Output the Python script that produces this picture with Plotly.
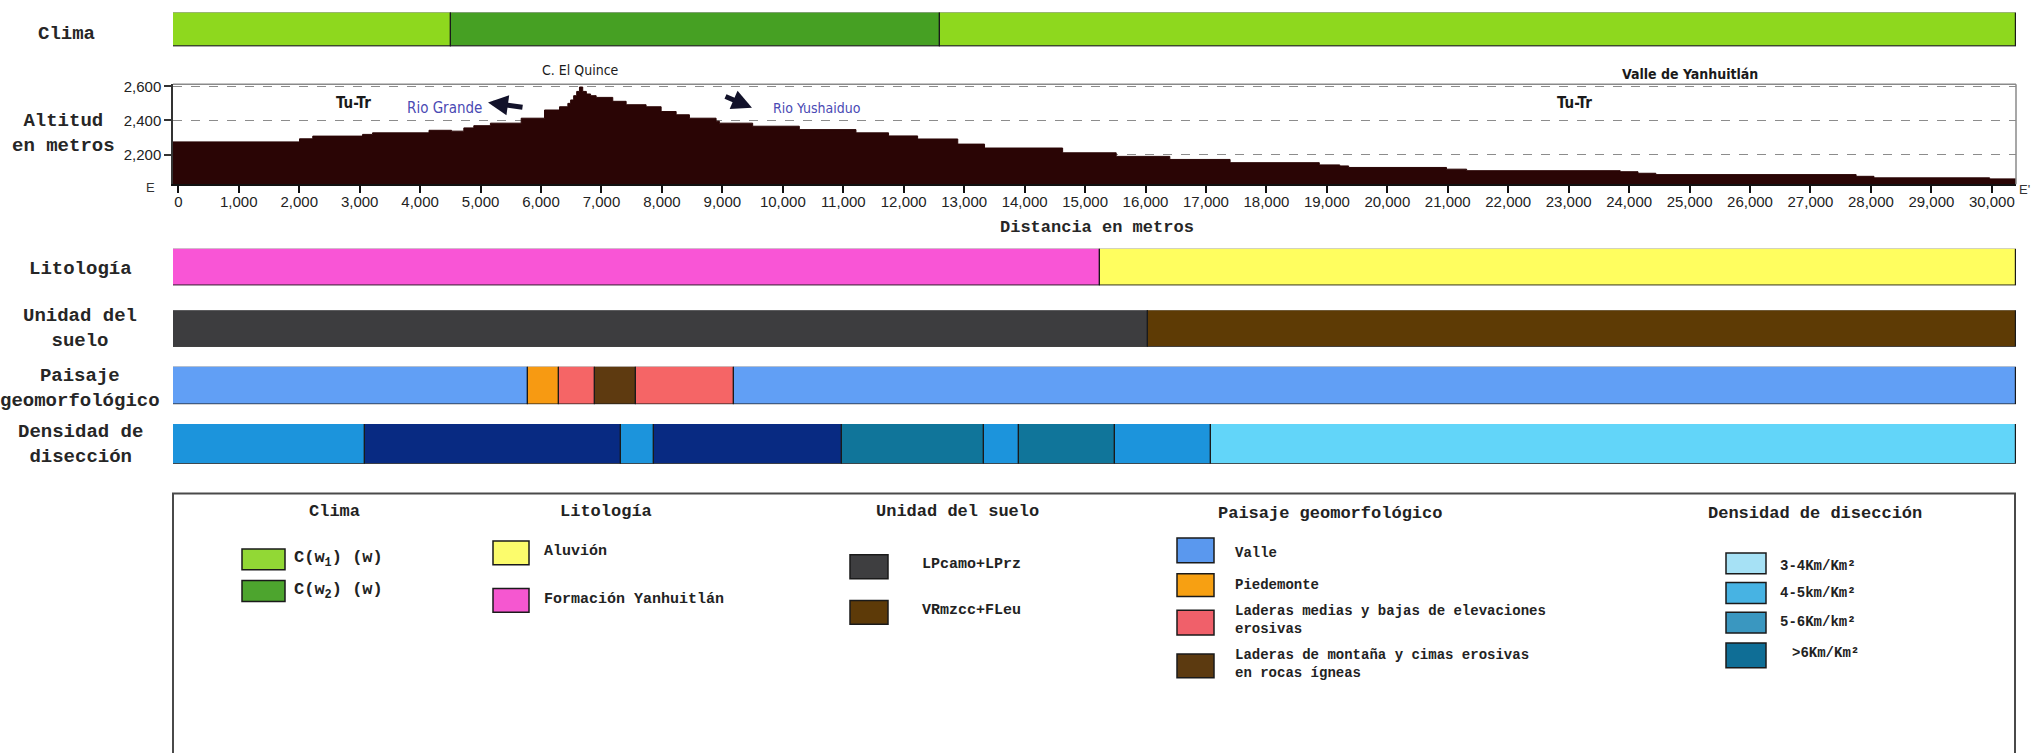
import plotly.graph_objects as go

W, H = 2038, 753

# ---------------- DATA ----------------
# Elevation profile (distance in m, elevation in m), stepped GIS profile
profile_dist = [-88, 2005, 2224, 3048, 3213, 4147, 4520, 4723, 4888, 5163, 5672, 6058, 6306,
                6444, 6490, 6540, 6590, 6636, 6690, 6750, 6820, 6912, 7187, 7408, 7738, 7987,
                8235, 8455, 8896, 8950, 9501, 10273, 11210, 11749, 12230, 12894, 13337, 14629,
                15515, 16402, 17399, 18875, 19213, 19360, 20979, 21312, 23853, 24147, 24442,
                27755, 28050, 29964, 30400]
profile_elev = [2274, 2292, 2308, 2318, 2327, 2342, 2337, 2356, 2369, 2384, 2413, 2461, 2480,
                2500, 2520, 2545, 2570, 2596, 2570, 2555, 2545, 2535, 2512, 2492, 2480, 2452,
                2433, 2413, 2395, 2384, 2366, 2346, 2327, 2309, 2291, 2261, 2238, 2210,
                2189, 2171, 2152, 2139, 2133, 2124, 2114, 2105, 2099, 2090, 2082,
                2072, 2063, 2057, 2057]

x_ticks = list(range(0, 30001, 1000))
y_ticks = [2200, 2400, 2600]

X_START, X_END = -88, 30400

# Strip rows: segment boundaries (m) and colours
clima_edges = [X_START, 4511, 12600, X_END]
clima_colors = ["#8ED81E", "#46A023", "#8ED81E"]

lito_edges = [X_START, 15253, X_END]
lito_colors = ["#F955D6", "#FFFE5F"]

suelo_edges = [X_START, 16038, X_END]
suelo_colors = ["#3D3D3F", "#5E3B05"]

paisaje_edges = [X_START, 5785, 6298, 6893, 7572, 9193, X_END]
paisaje_colors = ["#619FF5", "#F79A12", "#F56566", "#5E3A10", "#F56566", "#619FF5"]

dens_edges = [X_START, 3089, 7324, 7870, 10980, 13329, 13908, 15496, 17084, X_END]
dens_colors = ["#1C94DC", "#082A82", "#1C94DC", "#082A82", "#10759A", "#1C94DC",
               "#10759A", "#1C94DC", "#62D5F9"]

row_labels = ["Clima", "Altitud<br>en metros", "Litología", "Unidad del<br>suelo",
              "Paisaje<br>geomorfológico", "Densidad de<br>disección"]

# Legend content
leg_clima_labels = ["C(w<sub>1</sub>) (w)", "C(w<sub>2</sub>) (w)"]
leg_clima_colors = ["#92D835", "#4DA52E"]
leg_lito_labels = ["Aluvión", "Formación Yanhuitlán"]
leg_lito_colors = ["#FCFC6C", "#F557D0"]
leg_suelo_labels = ["LPcamo+LPrz", "VRmzcc+FLeu"]
leg_suelo_colors = ["#3E3E40", "#5D3A08"]
leg_pais_labels = ["Valle", "Piedemonte", "Laderas medias y bajas de elevaciones<br>erosivas",
                   "Laderas de montaña y cimas erosivas<br>en rocas ígneas"]
leg_pais_colors = ["#5A98EE", "#F7A012", "#F0606A", "#5C3A10"]
leg_dens_labels = ["3-4Km/Km²", "4-5km/Km²", "5-6Km/km²", ">6Km/Km²"]
leg_dens_colors = ["#A6E1F5", "#47B3E3", "#3A97C0", "#0F6E96"]

# ---------------- HELPERS ----------------
SHIFT = 4  # vertical nudge (px) for the upper block


def py(px, s=0):
    return 1 - (px - s) / H


def pu(px):
    return py(px, SHIFT)


def pxx(px):
    return px / W


MONO = "Liberation Mono"
SANS = "Liberation Sans"
HAND = "DejaVu Sans Condensed, DejaVu Sans"

fig = go.Figure()

# Altitude profile
fig.add_trace(go.Scatter(
    x=profile_dist, y=profile_elev, mode="lines", line_shape="hv",
    line=dict(color="#2A0505", width=1), fill="tozeroy", fillcolor="#2A0505",
    xaxis="x", yaxis="y", showlegend=False, hoverinfo="skip"))

rows = [
    ("y2", clima_edges, clima_colors),
    ("y3", lito_edges, lito_colors),
    ("y4", suelo_edges, suelo_colors),
    ("y5", paisaje_edges, paisaje_colors),
    ("y6", dens_edges, dens_colors),
]
for yax, edges, colors in rows:
    for i, c in enumerate(colors):
        fig.add_trace(go.Bar(
            x=[edges[i + 1] - edges[i]], base=[edges[i]], y=[0], orientation="h", width=1,
            marker=dict(color=c, line=dict(color="#1A1A1A", width=1.2)),
            xaxis="x", yaxis=yax, showlegend=False, hoverinfo="skip"))

x_dom = [pxx(173), pxx(2016)]
hidden = dict(visible=False, range=[-0.5, 0.5], fixedrange=True)

fig.update_layout(
    width=W, height=H, autosize=False,
    margin=dict(l=0, r=0, t=0, b=0),
    paper_bgcolor="white", plot_bgcolor="rgba(0,0,0,0)",
    barmode="overlay", bargap=0,
    xaxis=dict(domain=x_dom, range=[X_START, X_END], anchor="y",
               tickvals=x_ticks, tickformat=",d", ticks="outside", ticklen=7,
               tickwidth=1.5, tickcolor="#111", showline=True, linecolor="#111",
               linewidth=2, showgrid=False, zeroline=False, ticklabelstandoff=-4,
               tickfont=dict(family=SANS, size=15, color="#222")),
    yaxis=dict(domain=[pu(183), pu(82)], range=[2025, 2612], anchor="x",
               tickvals=y_ticks, tickformat=",d", ticks="outside", ticklen=7,
               tickwidth=1.5, tickcolor="#333", showline=True, linecolor="#333",
               linewidth=1.5, showgrid=True, gridcolor="#8C8C8C", griddash="dash",
               gridwidth=1, zeroline=False,
               tickfont=dict(family=SANS, size=15, color="#222")),
    yaxis2=dict(domain=[pu(44), pu(9.5)], anchor="x", **hidden),
    yaxis3=dict(domain=[pu(285), pu(248)], anchor="x", **hidden),
    yaxis4=dict(domain=[pu(347), pu(310)], anchor="x", **hidden),
    yaxis5=dict(domain=[pu(405), pu(367)], anchor="x", **hidden),
    yaxis6=dict(domain=[pu(465), pu(425)], anchor="x", **hidden),
)

shapes = []
# top and right frame of altitude plot
shapes.append(dict(type="line", xref="x domain", yref="y domain", x0=0, x1=1, y0=1, y1=1,
                   line=dict(color="#8A8A8A", width=1.5)))
shapes.append(dict(type="line", xref="x domain", yref="y domain", x0=1, x1=1, y0=0, y1=1,
                   line=dict(color="#8A8A8A", width=1.5)))
# legend frame
shapes.append(dict(type="rect", xref="paper", yref="paper", x0=pxx(173), x1=pxx(2015),
                   y0=-0.05, y1=py(491), line=dict(color="#4A4A4A", width=2),
                   fillcolor="rgba(0,0,0,0)"))

annotations = []


def txt(x, y, text, size, family=MONO, color="#222", xanchor="center", bold=False, **kw):
    t = f"<b>{text}</b>" if bold else text
    annotations.append(dict(x=pxx(x), y=y, xref="paper", yref="paper", text=t,
                            showarrow=False, xanchor=xanchor, yanchor="middle",
                            font=dict(family=family, size=size, color=color), **kw))


# row labels on the left
label_pos = [(66, 31), (64, 131.5), (80, 268), (80, 328.5), (80, 389.5), (80, 445.5)]
for lab, (xx, yy) in zip(row_labels, label_pos):
    txt(xx, pu(yy), lab, 19, bold=True, color="#262626")

txt(1097, pu(227), "Distancia en metros", 17, bold=True, color="#262626")
txt(150, pu(186), "E", 13, family=SANS, color="#333")
txt(2024, pu(188), "E'", 13, family=SANS, color="#333")


# profile annotations (data coordinates)
def dtext(x, y, text, size, color="#1A1A1A", family=HAND, bold=False):
    t = f"<b>{text}</b>" if bold else text
    annotations.append(dict(x=x, y=y, xref="x", yref="y", text=t, showarrow=False,
                            xanchor="center", yanchor="middle",
                            font=dict(family=family, size=size, color=color)))


dtext(2900, 2505, "Tu-Tr", 15, bold=True)
dtext(23100, 2500, "Tu-Tr", 15, bold=True)
dtext(4396, 2470, "Rio Grande", 15, color="#4A4AB4")
dtext(10561, 2470, "Rio Yushaiduo", 14, color="#4A4AB4")
txt(580, pu(68), "C. El Quince", 14, family=HAND, color="#1A1A1A")
txt(1690, pu(72), "<b>Valle de Yanhuitlán</b>", 14, family=HAND, color="#1A1A1A")

# arrows
annotations.append(dict(x=5123, y=2505, xref="x", yref="y", ax=36, ay=5,
                        text="", showarrow=True, arrowhead=2, arrowsize=0.8, arrowwidth=5,
                        arrowcolor="#12122A"))
annotations.append(dict(x=9490, y=2474, xref="x", yref="y", ax=-28, ay=-12,
                        text="", showarrow=True, arrowhead=2, arrowsize=0.8, arrowwidth=5,
                        arrowcolor="#12122A"))


# ---------------- LEGEND ----------------
def swatch(x0, x1, y0, y1, color):
    shapes.append(dict(type="rect", xref="paper", yref="paper", x0=pxx(x0), x1=pxx(x1),
                       y0=py(y1), y1=py(y0), fillcolor=color,
                       line=dict(color="#1A1A1A", width=1.5)))


TY = 509
# Clima
txt(334, py(TY), "Clima", 17, bold=True)
for (lab, col, (y0, y1)) in zip(leg_clima_labels, leg_clima_colors, [(547, 568), (579, 600)]):
    swatch(242, 285, y0, y1, col)
    txt(292, py((y0 + y1) / 2), lab, 17, xanchor="left", bold=True)

# Litología
txt(606, py(TY), "Litología", 17, bold=True)
for (lab, col, (y0, y1)) in zip(leg_lito_labels, leg_lito_colors, [(539, 563), (587, 611)]):
    swatch(493, 529, y0, y1, col)
    txt(542, py((y0 + y1) / 2 - 1), lab, 15, xanchor="left", bold=True)

# Unidad del suelo
txt(957, py(TY), "Unidad del suelo", 17, bold=True)
for (lab, col, (y0, y1)) in zip(leg_suelo_labels, leg_suelo_colors, [(553, 577), (599, 623)]):
    swatch(850, 888, y0, y1, col)
    txt(920, py((y0 + y1) / 2 - 2), lab, 15, xanchor="left", bold=True)

# Paisaje geomorfológico
txt(1330, py(TY + 2), "Paisaje geomorfológico", 17, bold=True)
pais_boxes = [(536, 561), (572, 595), (609, 634), (653, 677)]
pais_texty = [551, 583, 619, 663]
for lab, col, (y0, y1), ty in zip(leg_pais_labels, leg_pais_colors, pais_boxes, pais_texty):
    swatch(1177, 1214, y0, y1, col)
    txt(1233, py(ty), lab, 14, xanchor="left", bold=True, align="left")

# Densidad de disección
txt(1815, py(TY + 2), "Densidad de disección", 17, bold=True)
dens_boxes = [(551, 572), (581, 602), (611, 632), (642, 667)]
dens_textx = [1778, 1778, 1778, 1790]
dens_texty = [564, 591, 621, 652]
for lab, col, (y0, y1), tx, ty in zip(leg_dens_labels, leg_dens_colors, dens_boxes, dens_textx, dens_texty):
    swatch(1726, 1766, y0, y1, col)
    txt(tx, py(ty), lab, 14, xanchor="left", bold=True)

fig.update_layout(shapes=shapes, annotations=annotations)
fig.write_html("out.html")
